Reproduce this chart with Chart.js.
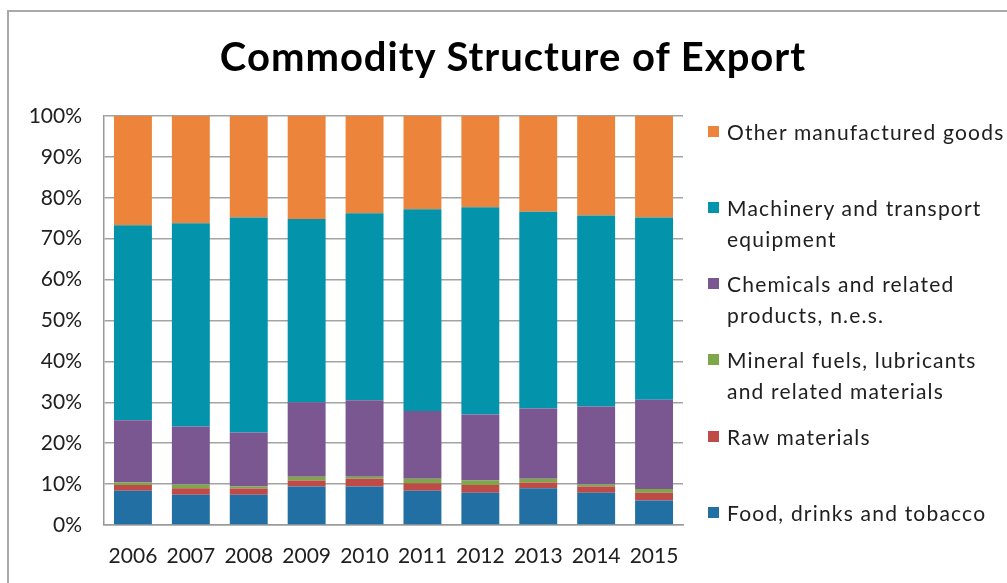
<!DOCTYPE html>
<html>
<head>
<meta charset="utf-8">
<script src="https://cdn.jsdelivr.net/npm/chart.js@4"></script>
<style>
  body { margin: 0; background: #fff; font-family: Lato, "Open Sans", sans-serif; }
  #wrap { position: relative; width: 1007px; height: 583px; overflow: hidden; }
  #frame { position: absolute; left: 7px; top: 10px; width: 1100px; height: 700px;
           border-left: 2px solid #a9a9a9; border-top: 2px solid #a9a9a9; }
  #title { position: absolute; left: 0; width: 1026px; top: 32px; text-align: center;
           font-size: 40px; letter-spacing: 1px; font-weight: bold; color: #000; }
  canvas { position: absolute; left: 0; top: 0; }
  .item { position: absolute; left: 708px; font-size: 21px; letter-spacing: 1.2px; color: #202020; line-height: 31px; }
  .item .sw { position: absolute; left: 0; top: 10px; width: 11px; height: 11px; }
  .item .tx { margin-left: 19px; white-space: nowrap; }
</style>
</head>
<body>
<div id="wrap">
  <div id="frame"></div>
  <canvas id="chart" width="1007" height="583"></canvas>
  <div id="title">Commodity Structure of Export</div>
  <div id="legend"></div>
</div>
<script>
const years = ["2006", "2007", "2008", "2009", "2010", "2011", "2012", "2013", "2014", "2015"];

// shares of total exports, %
const food      = [8.4, 7.4, 7.4, 9.4, 9.4, 8.4, 7.9, 9.0, 7.9, 6.0];
const raw       = [1.4, 1.6, 1.5, 1.5, 1.9, 1.8, 1.9, 1.4, 1.5, 1.9];
const mineral   = [0.6, 0.9, 0.5, 0.9, 0.5, 1.1, 1.1, 0.9, 0.5, 0.9];
const chemicals = [15.2, 14.2, 13.2, 18.2, 18.7, 16.6, 16.1, 17.2, 19.1, 21.8];
const machinery = [47.7, 49.7, 52.6, 44.8, 45.7, 49.3, 50.7, 48.1, 46.7, 44.6];
const other     = [26.7, 26.2, 24.8, 25.2, 23.8, 22.8, 22.3, 23.4, 24.3, 24.8];

const yTicks = [0, 10, 20, 30, 40, 50, 60, 70, 80, 90, 100];

const seriesNames = [
  ["Food, drinks and tobacco"],
  ["Raw materials"],
  ["Mineral fuels, lubricants", "and related materials"],
  ["Chemicals and related", "products, n.e.s."],
  ["Machinery and transport", "equipment"],
  ["Other manufactured goods"]
];
const colors = ["#2270a3", "#be4b48", "#7da748", "#7b5792", "#0393aa", "#ec853b"];
const values = [food, raw, mineral, chemicals, machinery, other];

const datasets = values.map((v, i) => ({
  label: seriesNames[i].join(" "),
  data: v,
  backgroundColor: colors[i],
  borderWidth: 0,
  categoryPercentage: 1,
  barPercentage: 0.655
}));

const ctx = document.getElementById("chart").getContext("2d");
new Chart(ctx, {
  type: "bar",
  data: { labels: years, datasets: datasets },
  options: {
    responsive: false,
    animation: false,
    layout: { padding: { left: 0, right: 324, top: 116, bottom: 0 } },
    plugins: { legend: { display: false }, title: { display: false }, tooltip: { enabled: false } },
    scales: {
      x: {
        stacked: true,
        grid: { display: false },
        border: { color: "#9a9a9a", width: 1.5 },
        ticks: { color: "#202020", font: { family: "Lato", size: 21 }, padding: 11, maxRotation: 0 },
        afterFit: (s) => { s.height = 58; }
      },
      y: {
        stacked: true,
        min: 0,
        max: 100,
        afterBuildTicks: (s) => { s.ticks = yTicks.map(v => ({ value: v })); },
        grid: { color: "#a3a3a3", lineWidth: 1.5, drawTicks: false },
        border: { color: "#9a9a9a", width: 1.5 },
        ticks: { color: "#202020", font: { family: "Lato", size: 21 }, padding: 22,
                 callback: (v) => v + "%" },
        afterFit: (s) => { s.width = 104; }
      }
    }
  }
});

// legend, top entry first like the original
const legendTops = [116, 192, 268, 344, 421, 497];
const legend = document.getElementById("legend");
for (let k = 0; k < seriesNames.length; k++) {
  const i = seriesNames.length - 1 - k;
  const el = document.createElement("div");
  el.className = "item";
  el.style.top = legendTops[k] + "px";
  el.innerHTML = '<span class="sw" style="background:' + colors[i] + '"></span>' +
    '<div class="tx">' + seriesNames[i].join("<br>") + '</div>';
  legend.appendChild(el);
}
</script>
</body>
</html>
